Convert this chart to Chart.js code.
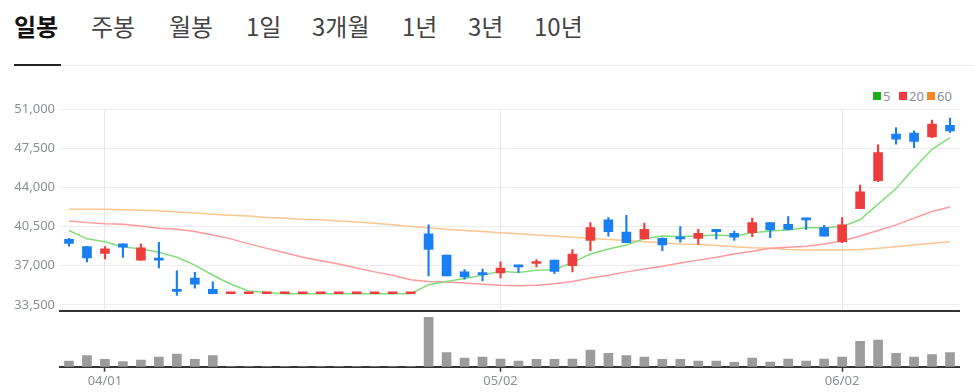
<!DOCTYPE html>
<html><head><meta charset="utf-8">
<script src="https://cdn.jsdelivr.net/npm/chart.js@4.4.1/dist/chart.umd.min.js"></script>
<style>
html,body{margin:0;padding:0;background:#fff;width:973px;height:392px;overflow:hidden}
body{position:relative;font-family:"Noto Sans CJK KR","Noto Sans",sans-serif}
.tab{position:absolute;top:14px;font-size:24px;line-height:24px;color:#444;white-space:nowrap}
.tab.on{font-weight:700;color:#111}
#uline{position:absolute;left:14px;top:64px;width:47px;height:2px;background:#222}
#divider{position:absolute;left:61px;top:65px;width:912px;height:1px;background:#eeeeee}
.lg{position:absolute;top:92px;width:8px;height:8px}
.lt{position:absolute;top:88px;font-family:"Noto Sans",sans-serif;font-size:13px;line-height:16px;color:#8b8f97}
canvas{position:absolute;left:0}
#main{top:95px}
#vol{top:313px}
</style></head><body>
<span class="tab on" style="left:14px">일봉</span>
<span class="tab" style="left:91px">주봉</span>
<span class="tab" style="left:169px">월봉</span>
<span class="tab" style="left:246px">1일</span>
<span class="tab" style="left:312px">3개월</span>
<span class="tab" style="left:402px">1년</span>
<span class="tab" style="left:468px">3년</span>
<span class="tab" style="left:534px">10년</span>
<div id="divider"></div><div id="uline"></div>
<div class="lg" style="left:873px;background:#16b316"></div><span class="lt" style="left:883px">5</span>
<div class="lg" style="left:899px;background:#f23c3c"></div><span class="lt" style="left:909px">20</span>
<div class="lg" style="left:927px;background:#f5891f"></div><span class="lt" style="left:937px">60</span>
<canvas id="main" width="973" height="218"></canvas>
<canvas id="vol" width="973" height="79"></canvas>
<script>
const categories = ['03/28','03/31','04/01','04/02','04/03','04/04','04/07','04/08','04/09','04/10','04/11','04/14','04/15','04/16','04/17','04/18','04/21','04/22','04/23','04/24','04/25','04/28','04/29','04/30','05/02','05/07','05/08','05/09','05/12','05/13','05/14','05/15','05/16','05/19','05/20','05/21','05/22','05/23','05/26','05/27','05/28','05/29','05/30','06/02','06/04','06/05','06/09','06/10','06/11','06/12'];
const openP  = [39350,38700,38100,38950,37500,37600,34900,35900,34900,34500,34500,34500,34500,34500,34500,34500,34500,34500,34500,34500,39850,37950,36450,36300,36350,37000,37200,37500,37000,39250,41100,40000,39400,39450,39550,39450,40250,39900,39950,40850,40700,41250,40400,39150,42100,44600,48750,48850,48500,49550];
const highP  = [39450,38700,38700,38950,38950,39100,36550,36400,35550,34500,34500,34500,34500,34500,34500,34500,34500,34500,34500,34500,40650,37950,36650,36700,37350,37050,37550,37500,38450,40850,41300,41500,40800,39500,40500,40250,40250,40100,41250,40850,41400,41250,40600,41300,44200,47800,49350,49050,50000,50200];
const lowP   = [38750,37350,37600,37750,37500,36800,34350,35000,34500,34500,34500,34500,34500,34500,34500,34500,34500,34500,34500,34500,36100,36100,35800,35650,35900,36400,36900,36300,36450,38350,39650,39050,39400,38350,39100,38900,39400,39250,39600,39500,40200,40250,39650,39050,42100,44500,47850,47550,48450,48900];
const closeP = [39000,37700,38500,38650,38600,37500,34700,35350,34500,34500,34500,34500,34500,34500,34500,34500,34500,34500,34500,34500,38450,36100,36000,36200,36800,36900,37300,36500,38050,40400,40050,39050,40250,38850,39400,39900,40050,39550,40850,40200,40250,41100,39650,40650,43600,47100,48300,48100,49650,49050];
const ma5  = [40150,39400,39150,38700,38500,38200,37750,37050,36150,35350,34750,34600,34500,34500,34500,34500,34500,34500,34500,34500,35300,35600,35850,36150,36500,36400,36600,36650,37300,38050,38500,38850,39400,39650,39600,39650,39750,39650,39950,40100,40200,40400,40400,40500,41100,42500,43900,45700,47400,48450];
const ma20 = [41000,40850,40750,40700,40550,40350,40250,40050,39750,39400,38950,38550,38150,37750,37450,37150,36800,36450,36150,35750,35600,35550,35450,35350,35250,35200,35250,35400,35600,35900,36150,36450,36700,36950,37250,37500,37750,38050,38300,38550,38650,38750,38950,39200,39650,40150,40650,41250,41850,42250];
const ma60 = [42050,42050,42050,42000,41950,41900,41800,41700,41600,41500,41450,41300,41250,41150,41100,41000,40900,40800,40650,40500,40400,40250,40150,40050,39950,39850,39750,39650,39550,39450,39350,39250,39150,39050,38950,38900,38800,38700,38600,38550,38450,38400,38400,38400,38450,38550,38700,38850,39000,39150];
const volume = [114000,220000,146000,100000,134000,194000,254000,146000,220000,0,0,0,0,0,0,0,0,0,0,0,986000,280000,174000,190000,154000,114000,146000,146000,154000,334000,266000,220000,194000,146000,146000,114000,114000,86000,174000,94000,154000,114000,154000,194000,506000,534000,266000,194000,240000,280000];
const tickLabels = ['04/01','05/02','06/02'];
const priceTicks = [33500,37000,40500,44000,47500,51000];

const UP = '#ef3d3d', DOWN = '#1a7ff2';
const candleColor = categories.map((_, i) => closeP[i] < openP[i] ? DOWN : UP);
const markIdx = new Set(categories.map((c, i) => tickLabels.includes(c) ? i : -1).filter(i => i >= 0));
const numFont = { family: 'Noto Sans', size: 13 };
const TXT = '#8b8f97';
function noPad(s) { s.paddingTop = 0; s.paddingBottom = 0; s.paddingLeft = 0; s.paddingRight = 0; }

new Chart(document.getElementById('main'), {
  type: 'bar',
  data: {
    labels: categories,
    datasets: [
      { type: 'line', label: '5', data: ma5, borderColor: '#85dc7c', borderWidth: 1.5, pointRadius: 0, tension: 0, order: 3 },
      { type: 'line', label: '20', data: ma20, borderColor: '#ff9a9a', borderWidth: 1.5, pointRadius: 0, tension: 0, order: 3 },
      { type: 'line', label: '60', data: ma60, borderColor: '#fdc590', borderWidth: 1.5, pointRadius: 0, tension: 0, order: 3 },
      { label: 'wick', data: categories.map((_, i) => [lowP[i], highP[i]]), backgroundColor: candleColor, barThickness: 1.5, grouped: false, borderWidth: 0, order: 1 },
      { label: 'body', data: categories.map((_, i) => [openP[i], closeP[i]]), backgroundColor: candleColor, barThickness: 9, grouped: false, borderWidth: 0, minBarLength: 2, order: 0 }
    ]
  },
  options: {
    responsive: false, animation: false, devicePixelRatio: 1,
    layout: { padding: { top: 14, bottom: 2.5, left: 0, right: 14 } },
    plugins: { legend: { display: false }, tooltip: { enabled: false } },
    scales: {
      x: {
        offset: true,
        grid: { offset: false, drawTicks: false, lineWidth: 1, color: c => markIdx.has(c.index) ? '#e6e6e6' : 'rgba(0,0,0,0)' },
        ticks: { display: false },
        border: { display: true, color: '#333', width: 2 },
        afterFit: s => { s.height = 0; noPad(s); }
      },
      y: {
        min: 33000, max: 51000,
        afterBuildTicks: s => { s.ticks = priceTicks.map(v => ({ value: v })); },
        grid: { color: '#ececec', drawTicks: false },
        border: { display: false },
        ticks: { padding: 5, color: TXT, font: numFont, callback: v => Number(v).toLocaleString('en-US') },
        afterFit: s => { s.width = 60; noPad(s); }
      }
    }
  }
});

new Chart(document.getElementById('vol'), {
  type: 'bar',
  data: {
    labels: categories,
    datasets: [{ label: '거래량', data: volume, backgroundColor: '#9c9c9c', barThickness: 9, borderWidth: 0 }]
  },
  options: {
    responsive: false, animation: false, devicePixelRatio: 1,
    layout: { padding: { top: 1.7, bottom: 0, left: 0, right: 14 } },
    plugins: { legend: { display: false }, tooltip: { enabled: false } },
    scales: {
      x: {
        offset: true,
        grid: { offset: false, drawOnChartArea: false, drawTicks: true, tickLength: 5, tickWidth: 1.5,
                color: 'rgba(0,0,0,0)', tickColor: c => markIdx.has(c.index) ? '#333' : 'rgba(0,0,0,0)' },
        border: { display: true, color: '#333', width: 2 },
        ticks: { autoSkip: false, maxRotation: 0, minRotation: 0, padding: 2, color: TXT, font: numFont,
                 callback: (v, i) => markIdx.has(i) ? categories[i] : '' },
        afterFit: s => { s.height = 25.3; noPad(s); }
      },
      y: {
        min: 0, max: 1040000,
        grid: { display: false }, border: { display: false }, ticks: { display: false },
        afterFit: s => { s.width = 60; noPad(s); }
      }
    }
  }
});
</script>
</body></html>
